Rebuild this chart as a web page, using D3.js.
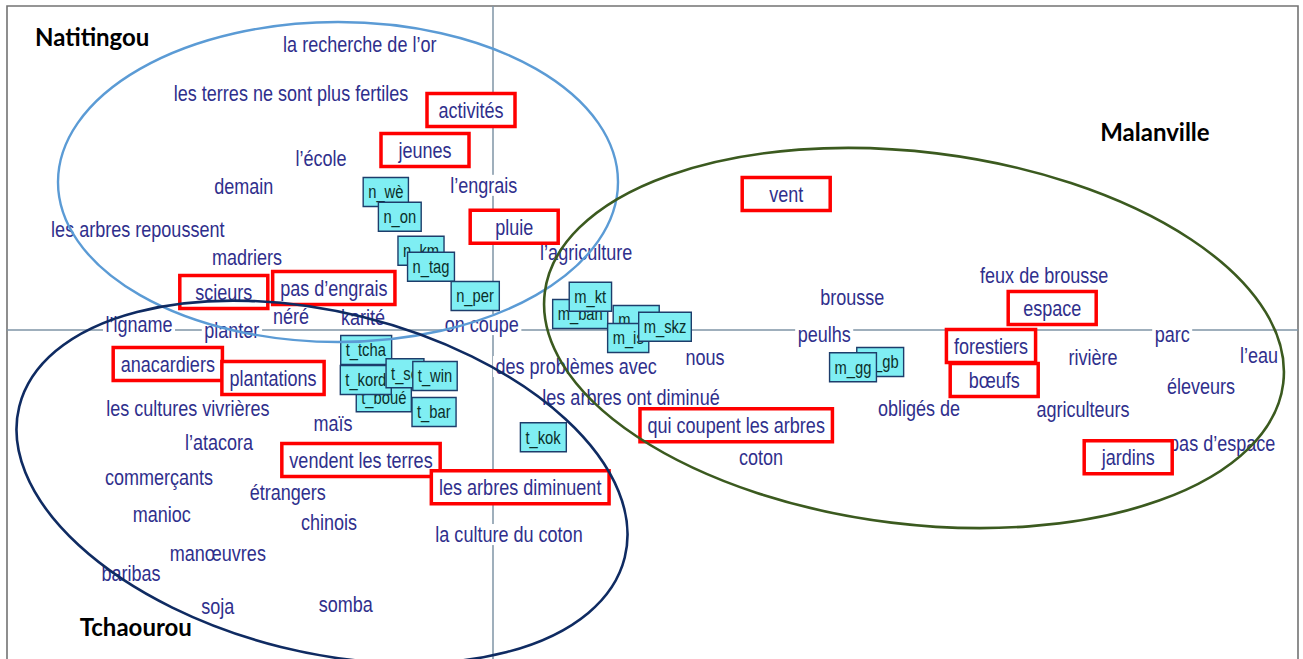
<!DOCTYPE html>
<html>
<head>
<meta charset="utf-8">
<script src="https://cdn.jsdelivr.net/npm/d3@7"></script>
<style>
  body { margin: 0; background: #fff; }
</style>
</head>
<body>
<div id="chart"></div>
<script>
// words of the correspondence analysis (axis 1, axis 2)
var words = [
  ["la recherche de l’or", -0.333, 0.715],
  ["les terres ne sont plus fertiles", -0.505, 0.593],
  ["l’école", -0.43, 0.43],
  ["demain", -0.623, 0.36],
  ["l’engrais", -0.023, 0.363],
  ["les arbres repoussent", -0.888, 0.253],
  ["madriers", -0.615, 0.183],
  ["l’agriculture", 0.233, 0.195],
  ["néré", -0.505, 0.035],
  ["karité", -0.325, 0.033],
  ["l’igname", -0.885, 0.015],
  ["planter", -0.653, 0],
  ["on coupe", -0.028, 0.015],
  ["les cultures vivrières", -0.763, -0.195],
  ["maïs", -0.4, -0.233],
  ["l’atacora", -0.685, -0.28],
  ["commerçants", -0.835, -0.368],
  ["étrangers", -0.513, -0.405],
  ["manioc", -0.828, -0.46],
  ["chinois", -0.41, -0.48],
  ["la culture du coton", 0.04, -0.51],
  ["manœuvres", -0.688, -0.558],
  ["baribas", -0.905, -0.608],
  ["soja", -0.688, -0.69],
  ["somba", -0.368, -0.685],
  ["des problèmes avec", 0.208, -0.09],
  ["les arbres ont diminué", 0.345, -0.168],
  ["nous", 0.53, -0.068],
  ["coton", 0.67, -0.318],
  ["brousse", 0.898, 0.083],
  ["feux de brousse", 1.378, 0.138],
  ["peulhs", 0.828, -0.01],
  ["parc", 1.698, -0.01],
  ["rivière", 1.5, -0.068],
  ["l’eau", 1.915, -0.063],
  ["éleveurs", 1.77, -0.14],
  ["obligés de", 1.065, -0.195],
  ["agriculteurs", 1.475, -0.198],
  ["pas d’espace", 1.823, -0.283]
];

// highlighted words (red frames)
var keyWords = [
  ["activités", -0.055, 0.55],
  ["jeunes", -0.17, 0.45],
  ["pluie", 0.053, 0.258],
  ["scieurs", -0.673, 0.095],
  ["pas d’engrais", -0.398, 0.105],
  ["anacardiers", -0.813, -0.085],
  ["plantations", -0.55, -0.12],
  ["vendent les terres", -0.33, -0.325],
  ["les arbres diminuent", 0.068, -0.393],
  ["qui coupent les arbres", 0.608, -0.238],
  ["vent", 0.733, 0.34],
  ["espace", 1.398, 0.055],
  ["forestiers", 1.245, -0.04],
  ["bœufs", 1.253, -0.125],
  ["jardins", 1.588, -0.318]
];

// interviews (site codes), in drawing order
var sites = [
  ["n_wè", -0.268, 0.345],
  ["n_on", -0.233, 0.283],
  ["n_km", -0.18, 0.198],
  ["n_tag", -0.155, 0.158],
  ["n_per", -0.045, 0.085],
  ["m_ban", 0.218, 0.04],
  ["m_kt", 0.243, 0.083],
  ["m_ml", 0.358, 0.025],
  ["m_is", 0.338, -0.02],
  ["m_skz", 0.43, 0.008],
  ["m_gb", 0.968, -0.08],
  ["m_gg", 0.9, -0.093],
  ["t_tcha", -0.318, -0.05],
  ["t_boué", -0.273, -0.168],
  ["t_kord", -0.318, -0.125],
  ["t_sé", -0.22, -0.108],
  ["t_win", -0.145, -0.115],
  ["t_bar", -0.148, -0.205],
  ["t_kok", 0.125, -0.268]
];

// regions: name, centre, radii, tilt (deg), label position
var regionNames = ["Natitingou", "Malanville", "Tchaourou"];
var regionCentres = [[-0.3875, 0.37], [1.0525, -0.02], [-0.4275, -0.38]];
var regionRadii = [[0.7, 0.4], [0.93, 0.465], [0.78, 0.425]];
var regionTilt = [0, 7, 14];
var regionLabels = [[-1.145, 0.71], [1.518, 0.472], [-1.033, -0.765]];
var regionColors = ["#5b9bd5", "#3b5a1f", "#0f2b62"];

var width = 1303, height = 659;

var svg = d3.select("#chart").append("svg")
  .attr("width", width)
  .attr("height", height)
  .style("display", "block");

var x = d3.scaleLinear().domain([-1.215, 2.0125]).range([7, 1298]);
var y = d3.scaleLinear().domain([-0.8225, 0.81]).range([659, 6]);

// Arial Narrow look: Liberation Sans squeezed horizontally
var wordFont = "'Liberation Sans', Arial, sans-serif";
var squeeze = 0.82;

// frame
svg.append("path")
  .attr("d", "M" + x(-1.215) + "," + (height + 5) + "V" + y(0.81) + "H" + x(2.0125) + "V" + (height + 5))
  .attr("fill", "none")
  .attr("stroke", "#737373")
  .attr("stroke-width", 1.6);

// axes through origin
svg.append("line")
  .attr("x1", x(-1.215)).attr("x2", x(2.0125))
  .attr("y1", y(0)).attr("y2", y(0))
  .attr("stroke", "#7f95a6").attr("stroke-width", 1.5);
svg.append("line")
  .attr("x1", x(0)).attr("x2", x(0))
  .attr("y1", y(0.81)).attr("y2", height)
  .attr("stroke", "#7f95a6").attr("stroke-width", 1.5);

function label(parent, d, size, color) {
  var g = parent.append("g")
    .attr("transform", "translate(" + x(d[1]) + "," + y(d[2]) + ") scale(" + squeeze + ",1)");
  var rect = g.append("rect");
  var t = g.append("text")
    .attr("text-anchor", "middle")
    .attr("dy", "0.35em")
    .style("font-family", wordFont)
    .style("font-size", size + "px")
    .style("fill", color)
    .text(d[0]);
  return { g: g, rect: rect, box: t.node().getBBox() };
}

// site codes
var siteG = svg.append("g");
sites.forEach(function(d) {
  var l = label(siteG, d, 18, "#0b2f2a");
  l.rect.attr("x", l.box.x - 5 / squeeze).attr("y", -14.5)
    .attr("width", l.box.width + 10 / squeeze).attr("height", 29)
    .attr("fill", "#7feef3")
    .attr("stroke", "#1d3d6b")
    .attr("stroke-width", 1.4)
    .attr("vector-effect", "non-scaling-stroke");
});

// plain words with white background
var wordG = svg.append("g");
words.forEach(function(d) {
  var l = label(wordG, d, 22, "#2f2f8c");
  l.rect.attr("x", l.box.x - 3).attr("y", l.box.y + 2)
    .attr("width", l.box.width + 6).attr("height", l.box.height - 3)
    .attr("fill", "#fff");
});

// framed key words
var keyG = svg.append("g");
keyWords.forEach(function(d) {
  var l = label(keyG, d, 22, "#2f2f8c");
  var w = Math.max(l.box.width * squeeze + 15, 88) / squeeze;
  l.rect.attr("x", -w / 2).attr("y", -16.5)
    .attr("width", w).attr("height", 33)
    .attr("fill", "#fff")
    .attr("stroke", "#ff0000")
    .attr("stroke-width", 3.5)
    .attr("vector-effect", "non-scaling-stroke");
});

// region ellipses
var kx = x(1) - x(0), ky = y(0) - y(1);
regionNames.forEach(function(name, i) {
  svg.append("ellipse")
    .attr("cx", 0).attr("cy", 0)
    .attr("rx", regionRadii[i][0] * kx)
    .attr("ry", regionRadii[i][1] * ky)
    .attr("transform", "translate(" + x(regionCentres[i][0]) + "," + y(regionCentres[i][1]) + ") rotate(" + regionTilt[i] + ")")
    .attr("fill", "none")
    .attr("stroke", regionColors[i])
    .attr("stroke-width", i === 0 ? 2.4 : 2.6);

  svg.append("text")
    .attr("x", x(regionLabels[i][0])).attr("y", y(regionLabels[i][1]))
    .style("font-family", "Lato, 'Open Sans', sans-serif")
    .style("font-weight", "bold")
    .style("font-size", "24px")
    .style("fill", "#000")
    .text(name);
});
</script>
</body>
</html>
